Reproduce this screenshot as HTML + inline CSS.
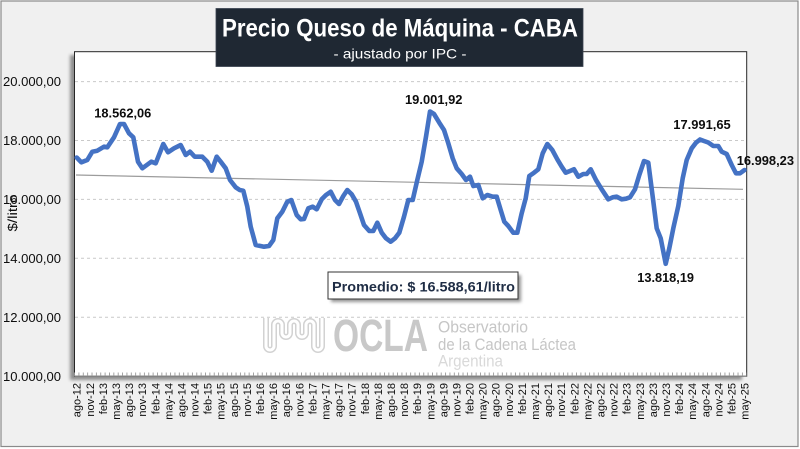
<!DOCTYPE html>
<html>
<head>
<meta charset="utf-8">
<style>
  html,body{margin:0;padding:0;background:#ffffff;}
  svg{display:block;font-family:"Liberation Sans",Arial,sans-serif;}
</style>
</head>
<body>
<svg width="800" height="449" viewBox="0 0 800 449" xmlns="http://www.w3.org/2000/svg">
  <defs>
    <filter id="sh" x="-10%" y="-10%" width="120%" height="120%">
      <feGaussianBlur stdDeviation="1.6"/>
    </filter>
    <filter id="sh2" x="-10%" y="-20%" width="130%" height="160%">
      <feGaussianBlur stdDeviation="1.5"/>
    </filter>
  </defs>

  <!-- outer frame -->
  <rect x="1" y="1" width="797" height="445.5" fill="#f0f0f0" stroke="#8a8a8a" stroke-width="1.2"/>

  <!-- plot shadow -->
  <rect x="70" y="55" width="672" height="325" fill="#6e6e6e" opacity="0.75" filter="url(#sh)"/>
  <!-- plot area -->
  <rect x="74.5" y="51.7" width="672.2" height="324.5" fill="#ffffff" stroke="#262626" stroke-width="1"/>

  <!-- gridlines -->
  <g stroke="#c9c9c9" stroke-width="1" stroke-dasharray="3,3">
    <line x1="75" y1="81.6" x2="746" y2="81.6"/>
    <line x1="75" y1="140.5" x2="746" y2="140.5"/>
    <line x1="75" y1="199.4" x2="746" y2="199.4"/>
    <line x1="75" y1="258.3" x2="746" y2="258.3"/>
    <line x1="75" y1="317.3" x2="746" y2="317.3"/>
  </g>

  <!-- x axis line & ticks -->
  <line x1="74.5" y1="376.2" x2="746.7" y2="376.2" stroke="#8c8c8c" stroke-width="1.2"/>
  <line x1="74.1" y1="374.3" x2="746.7" y2="374.3" stroke="#9a9a9a" stroke-width="3.6" stroke-dasharray="0.9 3.465"/>

  <!-- watermark logo -->
  <g>
    <path d="M266,318 L266,346 A4,4 0 0 0 274,346 L274,325 A4,4 0 0 1 282,325 L282,333 A4,4 0 0 0 290,333 L290,325 A4,4 0 0 1 298,325 L298,333 A4,4 0 0 0 306,333 L306,325 A4,4 0 0 1 314,325 L314,346 A4,4 0 0 0 322,346 L322,318"
      fill="none" stroke="#d2d2d2" stroke-width="6" stroke-linejoin="round"/>
    <path d="M266,318 L266,346 A4,4 0 0 0 274,346 L274,325 A4,4 0 0 1 282,325 L282,333 A4,4 0 0 0 290,333 L290,325 A4,4 0 0 1 298,325 L298,333 A4,4 0 0 0 306,333 L306,325 A4,4 0 0 1 314,325 L314,346 A4,4 0 0 0 322,346 L322,318"
      fill="none" stroke="#ffffff" stroke-width="3" stroke-linejoin="round"/>
    <text x="333" y="351" font-size="45" font-weight="bold" fill="#c8c8c8" textLength="95" lengthAdjust="spacingAndGlyphs">OCLA</text>
    <text x="438" y="332.7" font-size="17" fill="#c6c6c6" textLength="90" lengthAdjust="spacingAndGlyphs">Observatorio</text>
    <text x="438" y="350" font-size="17" fill="#c6c6c6" textLength="138" lengthAdjust="spacingAndGlyphs">de la Cadena Láctea</text>
    <text x="438" y="366.5" font-size="17" fill="#d9d9d9" textLength="65" lengthAdjust="spacingAndGlyphs">Argentina</text>
  </g>

  <!-- trend line -->
  <line x1="76" y1="175" x2="743" y2="189.3" stroke="#9c9c9c" stroke-width="1.2"/>

  <!-- data series -->
  <polyline fill="none" stroke="#4472c4" stroke-width="4.6" stroke-linejoin="round" stroke-linecap="round"
    points="76.7,157.5 81.3,162.3 87.3,160 92.3,151.7 97.3,150.7 104,146.7 107.3,147.3 114,137.3 120,124 124,124 129,133.3 133.3,137.3 138,161.7 142.3,168.3 151.3,161.7 155.7,163.3 163.3,144 168,152.3 174,148.3 180.7,145 185.7,155 190,151.7 194.7,156.7 202.3,156.7 207.3,161.7 211.7,170.7 216.7,156.7 220.7,161.7 225.7,168.3 230,180 235.7,187.3 239.7,190 243.3,190.7 247.3,206.7 250.7,226.7 255.7,245 264,246.7 269,246 273.3,240 277.3,218.3 282.3,211.7 287.3,201.7 291.3,200 296.7,215 300.7,219.3 304,219 308.3,208.3 312.7,206.7 316.7,209.3 321.7,199.3 326,195 330.7,191.7 335,200 339,204 343.3,196 347.3,190 351.7,194.3 356,201.7 360,213.3 364,225 369.3,231 373.3,231 377.3,222.7 381.7,232.7 386,238.3 390.7,241.7 395,238.3 399.3,232.7 404,216.7 408.3,200 412.7,200 417.3,180 421.7,161.7 426,136.7 430,111.5 434,114 439.3,122.7 444,130 448.3,143.3 452.7,158.3 456.7,168.3 461.7,174 466,180 470,176.7 473.3,186 478.3,185 482.7,198.3 487.3,195 492.7,196.7 496.7,196.7 500.7,210 504.3,221.7 508.3,226 513.3,232.7 517.3,232.7 521.7,213.3 525.7,198.3 529.3,176 534,172.7 538.3,169.3 542.7,153.3 547.3,144 552.3,150 557.3,159.3 561.7,166.7 565.7,172.7 570,171 574,169.3 578.3,176.7 583.3,174 586.7,174 590.7,169.3 596,180 601.7,189.3 608.3,199.3 612.7,197.3 616.7,196.7 621.7,199.3 626,198.7 630,197.3 635,189.3 639.3,175 644,161 648.3,162.7 652.7,196.7 656.7,228.3 660.7,238.3 665.7,263.8 669.3,248.3 673.3,228.3 678.3,206 682.7,178.3 686.7,160 691.7,148.3 696,142.7 700,139.5 704,141 708.3,142.5 713.3,146 718.3,146 721.7,151.7 726.7,154 731.7,165 736,173.3 740,173.3 744.5,170"/>

  <!-- data labels -->
  <g font-size="13" font-weight="bold" fill="#0d0d0d">
    <text x="94.3" y="117.3" textLength="57" lengthAdjust="spacingAndGlyphs">18.562,06</text>
    <text x="405" y="104" textLength="57.5" lengthAdjust="spacingAndGlyphs">19.001,92</text>
    <text x="673.3" y="129" textLength="57.4" lengthAdjust="spacingAndGlyphs">17.991,65</text>
    <text x="736.7" y="165" textLength="57.3" lengthAdjust="spacingAndGlyphs">16.998,23</text>
    <text x="637.3" y="282" textLength="56.7" lengthAdjust="spacingAndGlyphs">13.818,19</text>
  </g>

  <!-- promedio box -->
  <rect x="331" y="275" width="190" height="27" fill="#7a7a7a" opacity="0.8" filter="url(#sh2)"/>
  <rect x="328" y="272" width="190" height="27" fill="#ffffff" stroke="#333333" stroke-width="1"/>
  <text x="332" y="291.5" font-size="14" font-weight="bold" fill="#1f2d45" textLength="183" lengthAdjust="spacingAndGlyphs">Promedio: $ 16.588,61/litro</text>

  <!-- y axis labels -->
  <g font-size="13" fill="#0d0d0d" text-anchor="end">
    <text x="61" y="86.2" textLength="58" lengthAdjust="spacingAndGlyphs">20.000,00</text>
    <text x="61" y="145.1" textLength="58" lengthAdjust="spacingAndGlyphs">18.000,00</text>
    <text x="61" y="204" textLength="58" lengthAdjust="spacingAndGlyphs">16.000,00</text>
    <text x="61" y="262.9" textLength="58" lengthAdjust="spacingAndGlyphs">14.000,00</text>
    <text x="61" y="321.9" textLength="58" lengthAdjust="spacingAndGlyphs">12.000,00</text>
    <text x="61" y="380.8" textLength="58" lengthAdjust="spacingAndGlyphs">10.000,00</text>
  </g>
  <text transform="translate(17,213) rotate(-90)" text-anchor="middle" font-size="13" fill="#0d0d0d" textLength="37" lengthAdjust="spacingAndGlyphs">$/litro</text>

  <!-- x axis labels -->
  <g font-size="11" fill="#0d0d0d" text-anchor="end">
    <text transform="translate(80.7,383) rotate(-90)">ago-12</text>
    <text transform="translate(93.8,383) rotate(-90)">nov-12</text>
    <text transform="translate(106.9,383) rotate(-90)">feb-13</text>
    <text transform="translate(120.0,383) rotate(-90)">may-13</text>
    <text transform="translate(133.1,383) rotate(-90)">ago-13</text>
    <text transform="translate(146.2,383) rotate(-90)">nov-13</text>
    <text transform="translate(159.3,383) rotate(-90)">feb-14</text>
    <text transform="translate(172.4,383) rotate(-90)">may-14</text>
    <text transform="translate(185.5,383) rotate(-90)">ago-14</text>
    <text transform="translate(198.6,383) rotate(-90)">nov-14</text>
    <text transform="translate(211.6,383) rotate(-90)">feb-15</text>
    <text transform="translate(224.7,383) rotate(-90)">may-15</text>
    <text transform="translate(237.8,383) rotate(-90)">ago-15</text>
    <text transform="translate(250.9,383) rotate(-90)">nov-15</text>
    <text transform="translate(264.0,383) rotate(-90)">feb-16</text>
    <text transform="translate(277.1,383) rotate(-90)">may-16</text>
    <text transform="translate(290.2,383) rotate(-90)">ago-16</text>
    <text transform="translate(303.3,383) rotate(-90)">nov-16</text>
    <text transform="translate(316.4,383) rotate(-90)">feb-17</text>
    <text transform="translate(329.5,383) rotate(-90)">may-17</text>
    <text transform="translate(342.6,383) rotate(-90)">ago-17</text>
    <text transform="translate(355.7,383) rotate(-90)">nov-17</text>
    <text transform="translate(368.8,383) rotate(-90)">feb-18</text>
    <text transform="translate(381.9,383) rotate(-90)">may-18</text>
    <text transform="translate(395.0,383) rotate(-90)">ago-18</text>
    <text transform="translate(408.1,383) rotate(-90)">nov-18</text>
    <text transform="translate(421.2,383) rotate(-90)">feb-19</text>
    <text transform="translate(434.3,383) rotate(-90)">may-19</text>
    <text transform="translate(447.4,383) rotate(-90)">ago-19</text>
    <text transform="translate(460.5,383) rotate(-90)">nov-19</text>
    <text transform="translate(473.6,383) rotate(-90)">feb-20</text>
    <text transform="translate(486.6,383) rotate(-90)">may-20</text>
    <text transform="translate(499.7,383) rotate(-90)">ago-20</text>
    <text transform="translate(512.8,383) rotate(-90)">nov-20</text>
    <text transform="translate(525.9,383) rotate(-90)">feb-21</text>
    <text transform="translate(539.0,383) rotate(-90)">may-21</text>
    <text transform="translate(552.1,383) rotate(-90)">ago-21</text>
    <text transform="translate(565.2,383) rotate(-90)">nov-21</text>
    <text transform="translate(578.3,383) rotate(-90)">feb-22</text>
    <text transform="translate(591.4,383) rotate(-90)">may-22</text>
    <text transform="translate(604.5,383) rotate(-90)">ago-22</text>
    <text transform="translate(617.6,383) rotate(-90)">nov-22</text>
    <text transform="translate(630.7,383) rotate(-90)">feb-23</text>
    <text transform="translate(643.8,383) rotate(-90)">may-23</text>
    <text transform="translate(656.9,383) rotate(-90)">ago-23</text>
    <text transform="translate(670.0,383) rotate(-90)">nov-23</text>
    <text transform="translate(683.1,383) rotate(-90)">feb-24</text>
    <text transform="translate(696.2,383) rotate(-90)">may-24</text>
    <text transform="translate(709.3,383) rotate(-90)">ago-24</text>
    <text transform="translate(722.4,383) rotate(-90)">nov-24</text>
    <text transform="translate(735.5,383) rotate(-90)">feb-25</text>
    <text transform="translate(748.6,383) rotate(-90)">may-25</text>
  </g>

  <!-- title box -->
  <rect x="216" y="8.5" width="367" height="58" fill="#1f2833" stroke="#3a4350" stroke-width="0.8"/>
  <text x="400" y="36.5" text-anchor="middle" font-size="25" font-weight="bold" fill="#ffffff" textLength="356" lengthAdjust="spacingAndGlyphs">Precio Queso de Máquina - CABA</text>
  <text x="400" y="58.5" text-anchor="middle" font-size="14" fill="#ffffff" textLength="133" lengthAdjust="spacingAndGlyphs">- ajustado por IPC -</text>
</svg>
</body>
</html>
